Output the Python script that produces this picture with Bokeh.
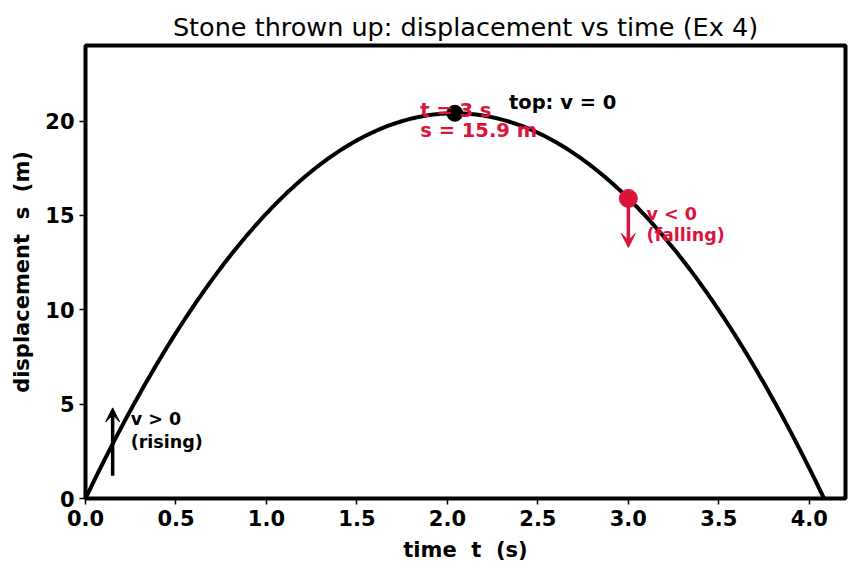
import numpy as np
from bokeh.plotting import figure
from bokeh.models import Range1d, FixedTicker, PrintfTickFormatter, Arrow, VeeHead
from bokeh.core.properties import value
from bokeh.embed import file_html
from bokeh.resources import INLINE

# Stone thrown straight up: s = u t - g t^2 / 2
U0 = 20.0          # launch speed, m/s
G = 9.8            # gravity, m/s^2
T_MARK = 3.0       # marked instant, s
S_MARK = 15.9      # displacement at the marked instant, m
T_RISE = 0.15      # where the "rising" arrow sits, s

X_TICKS = [0.0, 0.5, 1.0, 1.5, 2.0, 2.5, 3.0, 3.5, 4.0]
Y_TICKS = [0, 5, 10, 15, 20]

t_land = 2 * U0 / G
t = np.linspace(0, t_land, 400)
s = U0 * t - 0.5 * G * t ** 2
t_top = U0 / G
s_top = U0 ** 2 / (2 * G)

FONT = "DejaVu Sans"
CRIMSON = "#DC143C"

p = figure(width=858, height=573, output_backend="svg", toolbar_location=None,
           x_range=Range1d(0, 4.2), y_range=Range1d(0, 24),
           min_border_left=85, min_border_right=13, min_border_top=45, min_border_bottom=75)

p.title.text = "Stone thrown up: displacement vs time (Ex 4)"
p.title.align = "center"
p.title.text_font = FONT
p.title.text_font_size = "25.5px"
p.title.text_font_style = "normal"
p.title.text_color = "black"
p.title.offset = 0
p.title.standoff = 7

p.grid.visible = False
p.outline_line_color = "black"
p.outline_line_width = 4
p.outline_line_alpha = 1
p.background_fill_color = "white"
p.border_fill_color = "white"

for ax in (p.xaxis[0], p.yaxis[0]):
    ax.axis_line_color = None
    ax.major_tick_in = 0
    ax.major_tick_out = 6
    ax.major_tick_line_width = 1.5
    ax.minor_tick_line_color = None
    ax.major_label_text_font = FONT
    ax.major_label_text_font_style = "bold"
    ax.major_label_text_font_size = "21px"
    ax.major_label_text_color = "black"
    ax.axis_label_text_font = FONT
    ax.axis_label_text_font_style = "bold"
    ax.axis_label_text_font_size = "21px"
    ax.axis_label_text_color = "black"
    ax.major_label_standoff = 5

p.xaxis.ticker = FixedTicker(ticks=X_TICKS)
p.xaxis.formatter = PrintfTickFormatter(format="%.1f")
p.yaxis.ticker = FixedTicker(ticks=Y_TICKS)
p.xaxis.axis_label = "time \u00a0t \u00a0(s)"
p.yaxis.axis_label = "displacement \u00a0s \u00a0(m)"
p.xaxis.axis_label_standoff = 9
p.yaxis.axis_label_standoff = 8

# trajectory
p.line(t, s, line_color="black", line_width=4)

# velocity arrows
p.add_layout(Arrow(x_start=T_RISE, y_start=1.2, x_end=T_RISE, y_end=4.8,
                   line_color="black", line_width=3.5,
                   end=VeeHead(size=14, line_color="black", fill_color="black", line_width=1)))
p.add_layout(Arrow(x_start=T_MARK, y_start=S_MARK, x_end=T_MARK, y_end=13.3,
                   line_color=CRIMSON, line_width=3.5,
                   end=VeeHead(size=14, line_color=CRIMSON, fill_color=CRIMSON, line_width=1)))

# marked points
p.scatter([t_top], [s_top], size=16, color="black")
p.scatter([T_MARK], [S_MARK], size=18, color=CRIMSON)

def label(x, y, txt, color, size):
    p.text(x=[x], y=[y], text=[txt], text_color=color, text_font=value(FONT),
           text_font_style="bold", text_font_size=size, text_baseline="alphabetic",
           text_align="left")

label(1.85, 20.58, "t = 3 s", CRIMSON, "19.5px")
label(1.85, 19.52, f"s = {S_MARK} m", CRIMSON, "19.5px")
label(2.34, 20.99, "top: v = 0", "black", "19.5px")
label(0.25, 4.19, "v > 0", "black", "17.5px")
label(0.25, 2.99, "(rising)", "black", "17.5px")
label(3.1, 15.07, "v < 0", CRIMSON, "17.5px")
label(3.1, 13.95, "(falling)", CRIMSON, "17.5px")

open("out.html", "w").write(file_html(p, INLINE))
